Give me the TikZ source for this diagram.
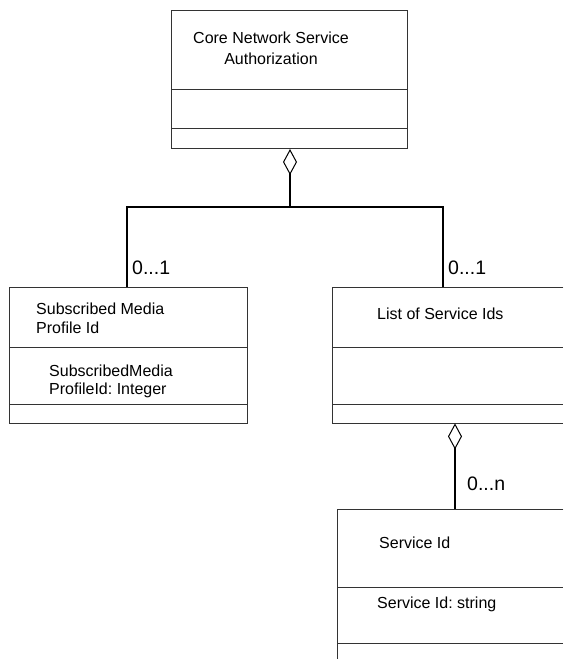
\documentclass[tikz,border=0pt]{standalone}
\usepackage{fontspec}
\setmainfont{Liberation Sans}
\usetikzlibrary{arrows.meta}
\begin{document}
\frenchspacing
\begin{tikzpicture}[x=1pt,y=-1pt,
  cls/.style={draw=black!80, line width=1pt, inner sep=0pt, rectangle, anchor=north west},
  openbox/.style={draw=none, inner sep=0pt, rectangle, anchor=north west},
  div/.style={draw=black!80, line width=1pt},
  lbl/.style={inner sep=0pt, anchor=west, align=left},
  mult/.style={font=\fontsize{19.5}{22}\selectfont, inner sep=0pt, anchor=west},
  conn/.style={line width=2pt, black},
  agg/.style={conn, {Diamond[open,length=26pt,width=14pt,line width=1pt]}-}]
\useasboundingbox (0,0) rectangle (563,659);

% class boxes
\node[cls, minimum width=236pt, minimum height=138pt] (core) at (171,10) {};
\node[cls, minimum width=238pt, minimum height=136pt] (smp) at (9,287) {};
\node[openbox, minimum width=231pt, minimum height=136pt] (list) at (332,287) {};
\node[openbox, minimum width=226pt, minimum height=160pt] (svc) at (337,509) {};
\draw[div] (list.north east) -- (list.north west) -- (list.south west) -- (list.south east);
\draw[div] (svc.north east) -- (svc.north west) -- (svc.south west);

% compartments
\draw[div] (core.west |- 0,89) -- (core.east |- 0,89);
\draw[div] (core.west |- 0,128) -- (core.east |- 0,128);
\draw[div] (smp.west |- 0,347) -- (smp.east |- 0,347);
\draw[div] (smp.west |- 0,404) -- (smp.east |- 0,404);
\draw[div] (list.west |- 0,347) -- (list.east |- 0,347);
\draw[div] (list.west |- 0,404) -- (list.east |- 0,404);
\draw[div] (svc.west |- 0,587) -- (svc.east |- 0,587);
\draw[div] (svc.west |- 0,643) -- (svc.east |- 0,643);

% texts
\node[inner sep=0pt, align=center, font=\fontsize{16}{20.7}\selectfont] (coret) at (271,48) {Core Network Service\\Authorization};
\node[lbl, font=\fontsize{16}{18.5}\selectfont] (smpt) at (36,318.5) {Subscribed Media\\Profile Id};
\node[lbl, font=\fontsize{16}{17.5}\selectfont] (smpa) at (49,381.5) {SubscribedMedia\\ProfileId: Integer};
\node[lbl, font=\fontsize{16}{19}\selectfont] (listt) at (377,314) {List of Service Ids};
\node[lbl, font=\fontsize{16}{19}\selectfont] (svct) at (379,543) {Service Id};
\node[lbl, font=\fontsize{16}{19}\selectfont] (svca) at (377,604) {Service Id: string};

% connectors
\coordinate (bus) at (290,207);
\coordinate (ldrop) at (127,287);
\coordinate (rdrop) at (443,287);
\coordinate (lk) at (455,0);
\draw[agg] (core.south -| bus) -- (bus);
\draw[conn] (smp.north -| ldrop) -- (ldrop |- bus) -- (bus -| rdrop) -- (list.north -| rdrop);
\draw[agg] (list.south -| lk) -- (svc.north -| lk);

% multiplicities
\node[mult] (m1) at (132,268) {0...1};
\node[mult] (m2) at (448,268) {0...1};
\node[mult] (m3) at (467,484) {0...n};
\end{tikzpicture}
\end{document}
